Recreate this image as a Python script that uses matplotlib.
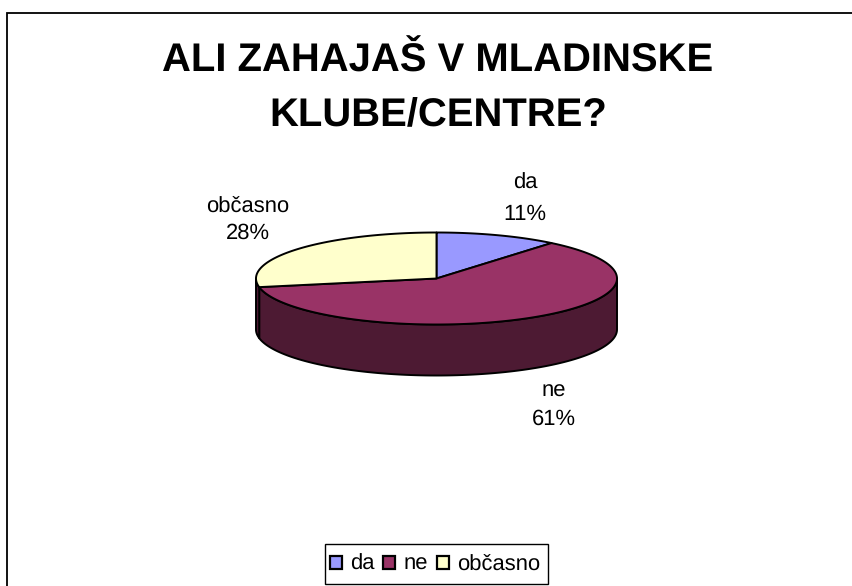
import numpy as np
import matplotlib
matplotlib.use("Agg")
import matplotlib.pyplot as plt
from matplotlib.patches import Polygon, Patch, Rectangle

title_lines = ["ALI ZAHAJAŠ V MLADINSKE", "KLUBE/CENTRE?"]
categories = ["da", "ne", "občasno"]
values = [11, 61, 28]
top_colors = ["#9999FF", "#993366", "#FFFFCC"]
side_colors = ["#4D4D80", "#4D1A33", "#4D1A33"]

W, H = 853, 586
cx, cy, rx, ry, depth = 436.5, 278.5, 180.5, 46, 51
# label centre x, baseline of the name, baseline of the percentage (pixels)
label_pos = {"da": (525, 189, 219.5), "ne": (553.5, 397, 425), "občasno": (248, 212, 238.5)}

plt.rcParams["font.family"] = ["Liberation Sans", "DejaVu Sans"]
plt.rcParams["text.hinting"] = "no_hinting"
plt.rcParams["text.hinting_factor"] = 1
fig = plt.figure(figsize=(W / 100, H / 100), dpi=100, facecolor="white")
ax = fig.add_axes([0, 0, 1, 1])
ax.set_xlim(0, W)
ax.set_ylim(H, 0)
ax.axis("off")

# chart area border (bottom and right run off the picture)
ax.plot([7.5, 7.5, W + 2], [H + 2, 12.5, 12.5], color="black", lw=1.3, clip_on=False,
        solid_joinstyle="miter", zorder=1)


def ellipse(a_deg, dy=0.0):
    a = np.radians(a_deg)  # clockwise from 12 o'clock
    return np.column_stack([cx + rx * np.sin(a), cy - ry * np.cos(a) + dy])


edges = np.concatenate([[0], np.cumsum(values)]) / np.sum(values) * 360.0
edge_lw = 1.4

# side wall: only the front half (90..270 degrees) is visible
for start, stop, col in zip(edges[:-1], edges[1:], side_colors):
    lo, hi = max(start, 90), min(stop, 270)
    if hi <= lo:
        continue
    t = np.linspace(lo, hi, 200)
    pts = np.vstack([ellipse(t), ellipse(t[::-1], depth)])
    ax.add_patch(Polygon(pts, closed=True, facecolor=col, edgecolor="black", lw=edge_lw,
                         joinstyle="round", zorder=2))

# top face
for start, stop, col in zip(edges[:-1], edges[1:], top_colors):
    t = np.linspace(start, stop, 200)
    pts = np.vstack([[cx, cy], ellipse(t)])
    ax.add_patch(Polygon(pts, closed=True, facecolor=col, edgecolor="black", lw=edge_lw,
                         joinstyle="round", zorder=3))

# title
ax.text(438, 61, title_lines[0], ha="center", va="center", fontsize=28.8, fontweight="bold", color="black")
ax.text(438, 116, title_lines[1], ha="center", va="center", fontsize=28.8, fontweight="bold", color="black")

# data labels
for cat, val in zip(categories, values):
    x, y1, y2 = label_pos[cat]
    ax.text(x, y1, cat, ha="center", va="baseline", fontsize=15.8, color="black")
    ax.text(x, y2, f"{val}%", ha="center", va="baseline", fontsize=15.8, color="black")

# legend
ax.add_patch(Rectangle((325, 543.5), 223, 40.5, facecolor="white", edgecolor="black", lw=1.0, zorder=4))
handles = [Patch(facecolor=c, edgecolor="black", lw=1.6) for c in top_colors]
leg = ax.legend(handles, categories, loc="center",
                bbox_to_anchor=(435 / W, 1 - 564.5 / H), ncol=3, fontsize=15.8,
                frameon=False,
                handlelength=0.55, handleheight=0.55, handletextpad=0.36,
                columnspacing=0.42, borderpad=0, borderaxespad=0)
leg.set_zorder(5)

fig.savefig("out.png", dpi=100, facecolor="white")
